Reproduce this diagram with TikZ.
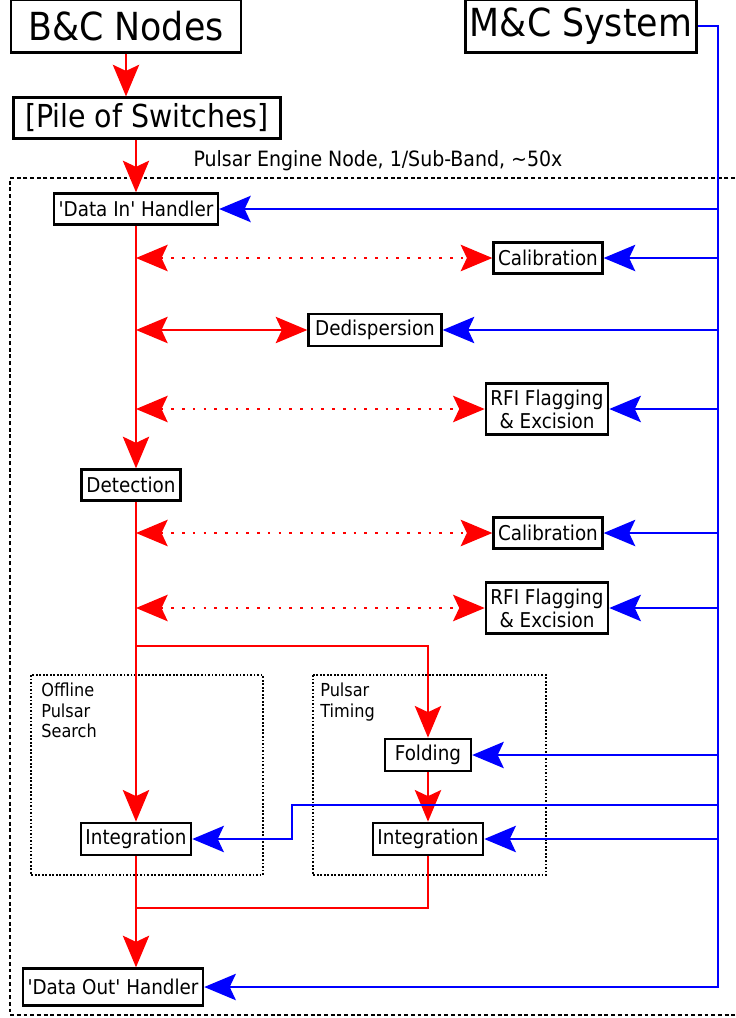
\documentclass[tikz,border=0pt]{standalone}
\usepackage{fontspec}
\setmainfont{DejaVu Sans Condensed}
\usepackage{tikz}
\usetikzlibrary{arrows.meta, positioning}
\definecolor{datared}{RGB}{255, 0, 0}
\definecolor{ctrlblue}{RGB}{0, 0, 255}

\begin{document}
\begin{tikzpicture}[
    x=0.02cm, y=-0.02cm,
    every node/.style={font=\fontsize{11.6}{13}\selectfont},
    box/.style={draw, line width=1.35pt, inner xsep=2.6pt, inner ysep=3.6pt,
                minimum height=0.62cm, text centered, align=center},
    bigbox/.style={box, font=\fontsize{22}{26}\selectfont, minimum width=131pt, minimum height=30pt},
    tip/.tip={Stealth[length=18pt, width=15pt, inset=3.5pt]},
    flow/.style={datared, line width=1.1pt, -tip},
    flowline/.style={datared, line width=1.1pt},
    both/.style={datared, line width=1.1pt, tip-tip},
    dots/.style={both, line width=1.5pt, dash pattern=on 1.5pt off 4.6pt},
    ctrl/.style={ctrlblue, line width=1.1pt, -tip},
    group/.style={draw, line width=0.9pt, dash pattern=on 1pt off 1pt},
]
\useasboundingbox (0,0) rectangle (735,1018);

%% Nodos con coordenadas absolutas
\node[bigbox] at (126,26) (bc) {B\&C Nodes};
\node[bigbox] at (581,26) (mc) {M\&C System};
\node[box, font=\fontsize{18}{21}\selectfont, minimum width=152pt, minimum height=21pt] at (147,118) (pile) {[Pile of Switches]};

\node[font=\fontsize{12}{14}\selectfont] at (378,161) (engine) {Pulsar Engine Node, 1/Sub-Band, \textasciitilde50x};

\node[box] at (136,209) (din)  {\textquotesingle Data In\textquotesingle{} Handler};
\node[box] at (548,258) (cal1) {Calibration};
\node[box, minimum width=2.66cm] at (375,330) (dd) {Dedispersion};
\node[box] at (547,409) (rfi1) {RFI Flagging\\\& Excision};
\node[box, minimum width=1.98cm] at (131,485) (det) {Detection};
\node[box] at (548,533) (cal2) {Calibration};
\node[box] at (547,608) (rfi2) {RFI Flagging\\\& Excision};
\node[box, minimum width=1.72cm] at (428,755) (fold) {Folding};
\node[box] at (428,839) (intT) {Integration};
\node[box] at (136,839) (intO) {Integration};
\node[box, minimum height=0.74cm] at (113,987) (dout) {\textquotesingle Data Out\textquotesingle{} Handler};

%% Recuadros punteados
\draw[line width=1.2pt, dash pattern=on 2.2pt off 1.6pt] (735,178) -- (10,178) -- (10,1015) -- (735,1015);
\draw[group] (31,675) rectangle (263,875);
\draw[group] (313,675) rectangle (546,875);
\node[anchor=north west, align=left, font=\fontsize{10.2}{11.4}\selectfont, inner sep=0pt] at (41,683) (offline) {Offline\\Pulsar\\Search};
\node[anchor=north west, align=left, font=\fontsize{10.2}{11.4}\selectfont, inner sep=0pt] at (320,683) (timing) {Pulsar\\Timing};

\coordinate (bus)   at (718,26);
\coordinate (split) at (136,646);
\coordinate (join)  at (136,908);
\coordinate (kink)  at (292,805);

%% Flechas de datos
\draw[flow] (bc) -- (bc.south |- pile.north);
\draw[flow] (pile.south -| din) -- (din);
\draw[flow] (din) -- (din.south |- det.north);
\draw[dots] (din.south |- cal1) -- (cal1);
\draw[both] (din.south |- dd) -- (dd);
\draw[dots] (din.south |- rfi1) -- (rfi1);
\draw[dots] (din.south |- cal2) -- (cal2);
\draw[dots] (din.south |- rfi2) -- (rfi2);
\draw[flow] (det.south -| din) -- (intO);
\draw[flow] (split) -| (fold);
\draw[flow] (fold) -- (intT);
\draw[flowline] (intT) |- (join);
\draw[flow] (intO) -- (intO.south |- dout.north);

%% Flechas de control
\draw[ctrl] (mc.east) -- (bus) |- (dout);
\draw[ctrl] (bus |- din) -- (din);
\draw[ctrl] (bus |- cal1) -- (cal1);
\draw[ctrl] (bus |- dd) -- (dd);
\draw[ctrl] (bus |- rfi1) -- (rfi1);
\draw[ctrl] (bus |- cal2) -- (cal2);
\draw[ctrl] (bus |- rfi2) -- (rfi2);
\draw[ctrl] (bus |- fold) -- (fold);
\draw[ctrl] (bus |- kink) -- (kink) |- (intO);
\draw[ctrl] (bus |- intT) -- (intT);

\end{tikzpicture}
\end{document}
